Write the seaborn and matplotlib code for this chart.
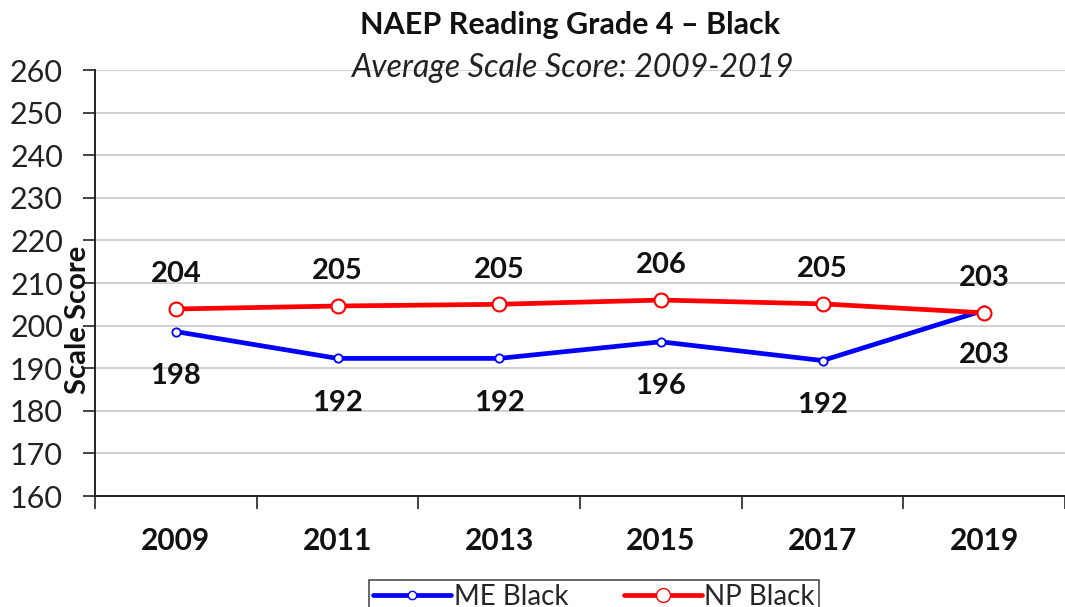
import pandas as pd
import numpy as np
import seaborn as sns
import matplotlib.pyplot as plt
from matplotlib.lines import Line2D

years = ['2009', '2011', '2013', '2015', '2017', '2019']
me_black = [198.6, 192.3, 192.3, 196.2, 191.8, 203.6]
np_black = [203.9, 204.6, 205.0, 206.0, 205.1, 203.0]
me_labels = ['198', '192', '192', '196', '192', '203']
np_labels = ['204', '205', '205', '206', '205', '203']
y_ticks = list(range(160, 261, 10))

sns.set_style('white')
plt.rcParams['font.family'] = ['Lato', 'DejaVu Sans']

df = pd.DataFrame({'year': years, 'ME Black': me_black, 'NP Black': np_black})
df['x'] = np.arange(len(years))

fig = plt.figure(figsize=(10.65, 6.07), dpi=100)
ax = fig.add_axes([95 / 1065, 111 / 607, 1.0 - 95 / 1065, 426 / 607])

sns.lineplot(data=df, x='x', y='ME Black', ax=ax, color='#0000FF', lw=3.4,
             marker='o', markersize=6, markerfacecolor='white',
             markeredgecolor='#0000FF', markeredgewidth=1.3, zorder=3)
sns.lineplot(data=df, x='x', y='NP Black', ax=ax, color='#FF0000', lw=3.4,
             marker='o', markersize=10, markerfacecolor='white',
             markeredgecolor='#FF0000', markeredgewidth=1.5, zorder=4)

for i in range(len(years)):
    ax.annotate(np_labels[i], (i, np_black[i]), xytext=(0, 25), textcoords='offset points',
                ha='center', va='center', fontsize=21, fontweight='bold', color='#111111')
    ax.annotate(me_labels[i], (i, me_black[i]), xytext=(0, -32), textcoords='offset points',
                ha='center', va='center', fontsize=21, fontweight='bold', color='#111111')

ax.set_ylim(160, 260)
ax.set_xlim(-0.5, 5.5 - 10 / 163)
ax.set_yticks(y_ticks)
ax.set_yticklabels([str(t) for t in y_ticks], fontsize=22, color='#222222')
ax.set_xticks(range(len(years)))
ax.set_xticklabels(years, fontsize=21.5, fontweight='bold', color='#111111')
ax.set_xticks(np.arange(-0.5, 5.6, 1), minor=True)
ax.tick_params(axis='x', which='major', length=0, pad=22, bottom=True)
ax.tick_params(axis='x', which='minor', length=9, width=1.2, color='#222222',
               direction='out', bottom=True)
ax.tick_params(axis='y', length=9, width=1.2, color='#222222', direction='out', left=True, pad=14)
ax.grid(axis='y', color='#c8c8c8', lw=1.2)
ax.set_axisbelow(True)
ax.set_xlabel('')
ax.set_ylabel('')
for s in ['top', 'right']:
    ax.spines[s].set_visible(False)
for s in ['left', 'bottom']:
    ax.spines[s].set_color('#222222')
    ax.spines[s].set_linewidth(1.4)

fig.text(78 / 1065, 1 - 320 / 607, 'Scale Score', rotation=90, ha='center', va='center',
         fontsize=21, fontweight='bold', color='#111111')
fig.text(570 / 1065, 1 - 25 / 607, 'NAEP Reading Grade 4 – Black', ha='center', va='center',
         fontsize=22, fontweight='bold', color='#111111')
fig.text(572 / 1065, 1 - 68 / 607, 'Average Scale Score: 2009-2019', ha='center', va='center',
         fontsize=23, style='italic', color='#222222')

handles = [
    Line2D([], [], color='#0000FF', lw=3.4, marker='o', markersize=6, markerfacecolor='white',
           markeredgecolor='#0000FF'),
    Line2D([], [], color='#FF0000', lw=3.4, marker='o', markersize=10, markerfacecolor='white',
           markeredgecolor='#FF0000'),
]
leg = fig.legend(handles, ['ME Black', 'NP Black'], loc='upper center', ncol=2,
                 bbox_to_anchor=(594 / 1065, 1 - 566 / 607), fontsize=20, frameon=True,
                 fancybox=False, edgecolor='#222222', handlelength=2.8, handletextpad=0.1,
                 columnspacing=2.0, borderpad=0.15)
leg.get_frame().set_linewidth(1.2)

fig.savefig('out.png', dpi=100)
